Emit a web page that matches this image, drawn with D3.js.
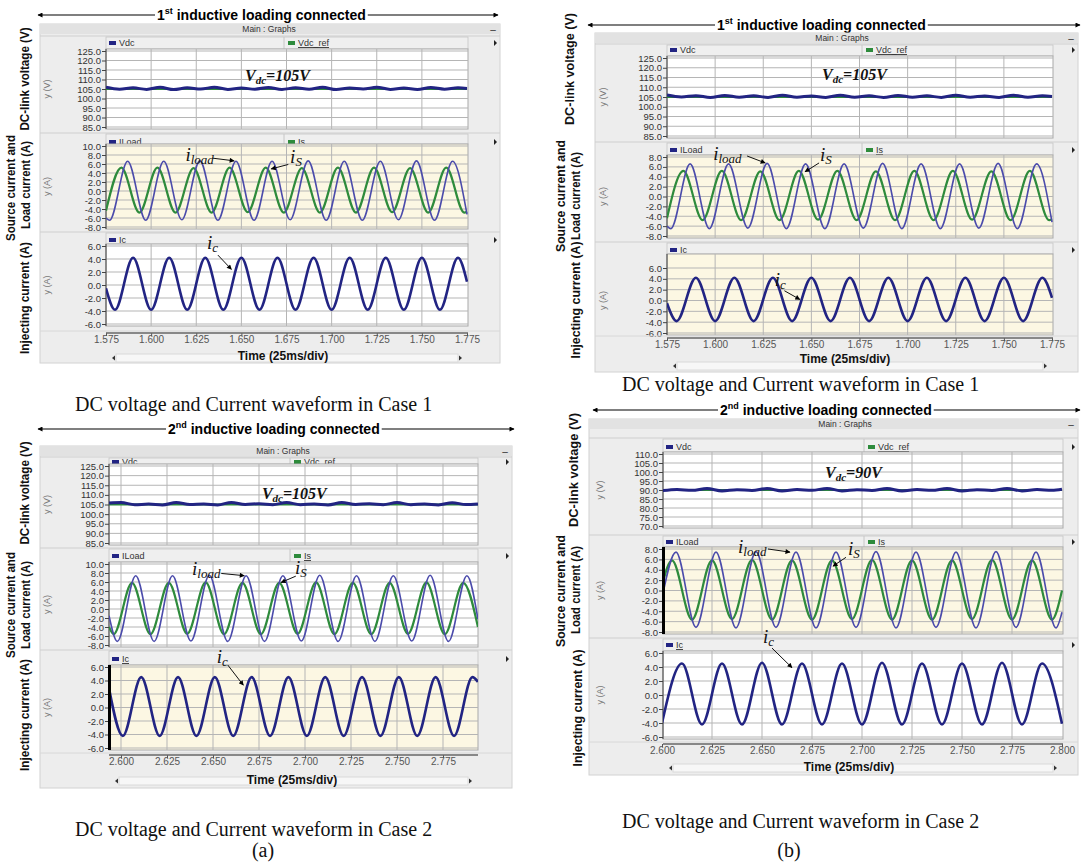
<!DOCTYPE html>
<html>
<head>
<meta charset="utf-8">
<script src="https://cdn.jsdelivr.net/npm/d3@7"></script>
<style>
body { margin: 0; background: #fff; }
svg { display: block; font-family: "Liberation Sans", Arial, sans-serif; }
</style>
</head>
<body>
<svg width="1084" height="865"></svg>
<script>
// tick labels
var timeTicks1 = [1.575, 1.600, 1.625, 1.650, 1.675, 1.700, 1.725, 1.750, 1.775];
var timeTicks2 = [2.600, 2.625, 2.650, 2.675, 2.700, 2.725, 2.750, 2.775];
var timeTicks3 = [2.600, 2.625, 2.650, 2.675, 2.700, 2.725, 2.750, 2.775, 2.800];
var vdcTicks1 = [125, 120, 115, 110, 105, 100, 95, 90, 85];
var vdcTicks2 = [110, 105, 100, 95, 90, 85, 80, 75, 70];
var loadTicks1 = [10, 8, 6, 4, 2, 0, -2, -4, -6, -8];
var loadTicks2 = [8, 6, 4, 2, 0, -2, -4, -6, -8];
var icTicks = [6, 4, 2, 0, -2, -4, -6];

// (a) case 1 : [time, value], peaks and troughs
var a1Vdc = [[1.575,105.9],[1.5825,104.9],[1.590,105.6],[1.5975,104.8],[1.605,105.9],[1.6125,104.7],[1.620,105.6],[1.6275,105.0],[1.635,105.9],[1.6425,104.8],[1.650,105.5],[1.6575,104.9],[1.665,105.8],[1.6725,104.8],[1.680,105.6],[1.6875,104.9],[1.695,105.9],[1.7025,104.7],[1.710,105.5],[1.7175,105.0],[1.725,105.9],[1.7325,104.8],[1.740,105.5],[1.7475,104.8],[1.755,105.8],[1.7625,104.9],[1.770,105.6],[1.775,105.3]];
var a1Ref = [[1.575,105],[1.775,105]];
var a1Load = [[1.575,-6.0],[1.577,-6.5],[1.587,6.6],[1.597,-6.5],[1.607,6.6],[1.617,-6.4],[1.627,6.7],[1.637,-6.5],[1.647,6.6],[1.657,-6.5],[1.667,6.6],[1.677,-6.4],[1.687,6.7],[1.697,-6.5],[1.707,6.6],[1.717,-6.5],[1.727,6.6],[1.737,-6.4],[1.747,6.7],[1.757,-6.5],[1.767,6.6],[1.775,-5.2]];
var a1Src = [[1.575,-4.4],[1.5835,5.2],[1.5935,-4.8],[1.6035,5.2],[1.6135,-4.8],[1.6235,5.1],[1.6335,-4.8],[1.6435,5.2],[1.6535,-4.7],[1.6635,5.2],[1.6735,-4.8],[1.6835,5.1],[1.6935,-4.8],[1.7035,5.2],[1.7135,-4.8],[1.7235,5.2],[1.7335,-4.7],[1.7435,5.1],[1.7535,-4.8],[1.7635,5.2],[1.7735,-4.8],[1.775,-4.6]];
var a1Ic = [[1.575,-0.5],[1.580,-3.8],[1.590,4.2],[1.600,-3.8],[1.610,4.2],[1.620,-3.8],[1.630,4.2],[1.640,-3.8],[1.650,4.2],[1.660,-3.8],[1.670,4.2],[1.680,-3.8],[1.690,4.2],[1.700,-3.8],[1.710,4.2],[1.720,-3.8],[1.730,4.2],[1.740,-3.8],[1.750,4.2],[1.760,-3.8],[1.770,4.2],[1.775,0.5]];

// (a) case 2
var a2Vdc = [[2.5935,105.8],[2.600,106.0],[2.6075,104.9],[2.615,105.2],[2.6225,104.8],[2.630,106.0],[2.6375,105.0],[2.645,105.3],[2.6525,104.8],[2.660,106.1],[2.6675,105.0],[2.675,105.4],[2.6825,104.9],[2.690,106.0],[2.6975,104.9],[2.705,105.3],[2.7125,104.8],[2.720,106.0],[2.7275,105.0],[2.735,105.4],[2.7425,104.9],[2.750,106.0],[2.7575,104.9],[2.765,105.3],[2.7725,104.8],[2.780,105.9],[2.7875,105.0],[2.794,105.3]];
var a2Ref = [[2.5935,105],[2.794,105]];
var a2Load = [[2.5935,-1.5],[2.598,-7.2],[2.608,7.4],[2.618,-7.2],[2.628,7.4],[2.638,-7.1],[2.648,7.5],[2.658,-7.2],[2.668,7.4],[2.678,-7.2],[2.688,7.4],[2.698,-7.1],[2.708,7.5],[2.718,-7.2],[2.728,7.4],[2.738,-7.2],[2.748,7.4],[2.758,-7.1],[2.768,7.5],[2.778,-7.2],[2.788,7.4],[2.794,-2.3]];
var a2Src = [[2.5935,-4.0],[2.596,-5.6],[2.606,5.8],[2.616,-5.6],[2.626,5.8],[2.636,-5.5],[2.646,5.9],[2.656,-5.6],[2.666,5.8],[2.676,-5.6],[2.686,5.8],[2.696,-5.5],[2.706,5.9],[2.716,-5.6],[2.726,5.8],[2.736,-5.6],[2.746,5.8],[2.756,-5.5],[2.766,5.9],[2.776,-5.6],[2.786,5.8],[2.794,-4.0]];
var a2Ic = [[2.5935,2.8],[2.601,-4.2],[2.611,4.5],[2.621,-4.2],[2.631,4.5],[2.641,-4.2],[2.651,4.5],[2.661,-4.2],[2.671,4.5],[2.681,-4.2],[2.691,4.5],[2.701,-4.2],[2.711,4.5],[2.721,-4.2],[2.731,4.5],[2.741,-4.2],[2.751,4.5],[2.761,-4.2],[2.771,4.5],[2.781,-4.2],[2.791,4.5],[2.794,3.8]];

// (b) case 1
var b1Vdc = [[1.575,106.0],[1.5825,105.0],[1.590,105.7],[1.5975,104.8],[1.605,105.8],[1.6125,104.9],[1.620,105.6],[1.6275,104.8],[1.635,105.9],[1.6425,104.9],[1.650,105.5],[1.6575,104.8],[1.665,105.9],[1.6725,104.9],[1.680,105.6],[1.6875,104.8],[1.695,105.8],[1.7025,104.9],[1.710,105.6],[1.7175,104.8],[1.725,105.9],[1.7325,104.9],[1.740,105.5],[1.7475,104.8],[1.755,105.9],[1.7625,104.9],[1.770,105.6],[1.775,105.2]];
var b1Ref = [[1.575,105],[1.775,105]];
var b1Load = [[1.575,-6.0],[1.577,-6.5],[1.587,6.6],[1.597,-6.5],[1.607,6.6],[1.617,-6.4],[1.627,6.7],[1.637,-6.5],[1.647,6.6],[1.657,-6.5],[1.667,6.6],[1.677,-6.4],[1.687,6.7],[1.697,-6.5],[1.707,6.6],[1.717,-6.5],[1.727,6.6],[1.737,-6.4],[1.747,6.7],[1.757,-6.5],[1.767,6.6],[1.775,-5.2]];
var b1Src = [[1.575,-4.4],[1.5835,5.2],[1.5935,-4.8],[1.6035,5.2],[1.6135,-4.8],[1.6235,5.1],[1.6335,-4.8],[1.6435,5.2],[1.6535,-4.7],[1.6635,5.2],[1.6735,-4.8],[1.6835,5.1],[1.6935,-4.8],[1.7035,5.2],[1.7135,-4.8],[1.7235,5.2],[1.7335,-4.7],[1.7435,5.1],[1.7535,-4.8],[1.7635,5.2],[1.7735,-4.8],[1.775,-4.6]];
var b1Ic = [[1.575,-0.5],[1.580,-3.8],[1.590,4.2],[1.600,-3.8],[1.610,4.2],[1.620,-3.8],[1.630,4.2],[1.640,-3.8],[1.650,4.2],[1.660,-3.8],[1.670,4.2],[1.680,-3.8],[1.690,4.2],[1.700,-3.8],[1.710,4.2],[1.720,-3.8],[1.730,4.2],[1.740,-3.8],[1.750,4.2],[1.760,-3.8],[1.770,4.2],[1.775,0.5]];

// (b) case 2
var b2Vdc = [[2.600,89.6],[2.6075,90.3],[2.615,89.8],[2.6225,90.8],[2.630,89.5],[2.6375,90.2],[2.645,89.7],[2.6525,90.8],[2.660,89.5],[2.6675,90.3],[2.675,89.8],[2.6825,90.9],[2.690,89.5],[2.6975,90.2],[2.705,89.7],[2.7125,90.8],[2.720,89.5],[2.7275,90.3],[2.735,89.8],[2.7425,90.8],[2.750,89.5],[2.7575,90.2],[2.765,89.7],[2.7725,90.8],[2.780,89.5],[2.7875,90.3],[2.795,89.8],[2.800,90.4]];
var b2Ref = [[2.600,90],[2.800,90]];
var b2Load = [[2.600,-1.5],[2.607,7.4],[2.617,-7.1],[2.627,7.4],[2.637,-7.2],[2.647,7.5],[2.657,-7.1],[2.667,7.4],[2.677,-7.2],[2.687,7.4],[2.697,-7.1],[2.707,7.5],[2.717,-7.2],[2.727,7.4],[2.737,-7.1],[2.747,7.4],[2.757,-7.2],[2.767,7.5],[2.777,-7.1],[2.787,7.4],[2.797,-7.2],[2.800,-4.2]];
var b2Src = [[2.600,1.0],[2.605,5.8],[2.615,-5.6],[2.625,5.8],[2.635,-5.5],[2.645,5.9],[2.655,-5.6],[2.665,5.8],[2.675,-5.6],[2.685,5.8],[2.695,-5.5],[2.705,5.9],[2.715,-5.6],[2.725,5.8],[2.735,-5.6],[2.745,5.8],[2.755,-5.5],[2.765,5.9],[2.775,-5.6],[2.785,5.8],[2.795,-5.6],[2.800,0.0]];
var b2Ic = [[2.600,-4.0],[2.610,4.5],[2.620,-4.2],[2.630,4.5],[2.640,-4.2],[2.650,4.6],[2.660,-4.2],[2.670,4.5],[2.680,-4.2],[2.690,4.5],[2.700,-4.2],[2.710,4.6],[2.720,-4.2],[2.730,4.5],[2.740,-4.2],[2.750,4.5],[2.760,-4.2],[2.770,4.6],[2.780,-4.2],[2.790,4.5],[2.800,-4.1]];

var NAVY = "#222483", BLUE = "#4b4bab", GREEN = "#2e8b3c", CREAM = "#fcf7e3";
var caption1 = "DC voltage and Current waveform in Case 1";
var caption2 = "DC voltage and Current waveform in Case 2";

var panels = [
  { title: ["1", "st", " inductive loading connected"], titleX: 157, arrowY: 15, arrow: [38, 498],
    win: [40, 24, 500, 363], mainX: 269, leg2X: 288, yLabX: 47,
    plotX: [106, 468], tDom: [1.575, 1.775], xPx: [106, 467], tTicks: timeTicks1,
    subs: [
      { head: 36, legY: 43, top: 51, bot: 127, ticks: vdcTicks1, bg: "#fff", unit: "y (V)",
        legend: [["Vdc", NAVY, false], ["Vdc_ref", GREEN, true]], series: [[a1Ref, GREEN, 2], [a1Vdc, NAVY, 3]] },
      { head: 133, legY: 142, top: 146, bot: 227, ticks: loadTicks1, bg: CREAM, unit: "y (A)",
        legend: [["ILoad", NAVY, false], ["Is", GREEN, true]], series: [[a1Src, GREEN, 2.2], [a1Load, BLUE, 1.6]] },
      { head: 232, legY: 240, top: 246, bot: 324, ticks: icTicks, bg: "#fff", unit: "y (A)",
        legend: [["Ic", NAVY, true]], series: [[a1Ic, NAVY, 2.6]] }
    ],
    axisY: 333, scrollY: 354, timeX: 283, timeY: 360,
    side: [["DC-link voltage (V)", 25, 79, 103], ["Source current and", 11, 188, 106], ["Load current (A)", 26, 185, 88], ["Injecting current (A)", 25, 298, 112]],
    captions: [[caption1, 75, 411]],
    notes: [
      { s: 0, txt: ["V", "dc", "=105V"], at: [1.652, 109] },
      { s: 1, txt: ["i", "load"], at: [1.619, 6.6], from: [1.634, 7.3], to: [1.646, 6.7] },
      { s: 1, txt: ["i", "S"], at: [1.677, 6.2], from: [1.676, 5.9], to: [1.6665, 4.9] },
      { s: 2, txt: ["i", "c"], at: [1.631, 5.6], from: [1.637, 4.6], to: [1.6445, 2.4] }
    ] },
  { title: ["2", "nd", " inductive loading connected"], titleX: 168, arrowY: 429, arrow: [38, 514],
    win: [40, 446, 512, 788], mainX: 283, leg2X: 294, yLabX: 47,
    plotX: [109, 478], tDom: [2.6, 2.775], xPx: [121, 443], tTicks: timeTicks2,
    subs: [
      { head: 457, legY: 462, top: 466, bot: 543, ticks: vdcTicks1, bg: "#fff", unit: "y (V)",
        legend: [["Vdc", NAVY, false], ["Vdc_ref", GREEN, true]], series: [[a2Ref, GREEN, 2], [a2Vdc, NAVY, 3]] },
      { head: 548, legY: 556, top: 564, bot: 645, ticks: loadTicks1, bg: "#fff", unit: "y (A)",
        legend: [["ILoad", NAVY, false], ["Is", GREEN, true]], series: [[a2Src, GREEN, 2.2], [a2Load, BLUE, 1.6]] },
      { head: 650, legY: 659, top: 667, bot: 748, ticks: icTicks, bg: CREAM, unit: "y (A)", cursor: true,
        legend: [["Ic", NAVY, true]], series: [[a2Ic, NAVY, 2.6]] }
    ],
    axisY: 755, scrollY: 777, timeX: 292, timeY: 784,
    side: [["DC-link voltage (V)", 25, 493, 103], ["Source current and", 11, 605, 106], ["Load current (A)", 26, 605, 88], ["Injecting current (A)", 25, 715, 112]],
    captions: [[caption2, 75, 836], ["(a)", 263, 857, "middle"]],
    notes: [
      { s: 0, txt: ["V", "dc", "=105V"], at: [2.6766, 108] },
      { s: 1, txt: ["i", "load"], at: [2.6386, 7.6], from: [2.6545, 7.9], to: [2.667, 7.4] },
      { s: 1, txt: ["i", "S"], at: [2.6945, 7.8], from: [2.695, 7.3], to: [2.687, 5.9] },
      { s: 2, txt: ["i", "c"], at: [2.652, 6.6], from: [2.658, 6.3], to: [2.6665, 3.3] }
    ] },
  { title: ["1", "st", " inductive loading connected"], titleX: 717, arrowY: 25, arrow: [588, 1080],
    win: [595, 33, 1078, 372], mainX: 842, leg2X: 866, yLabX: 603,
    plotX: [667, 1053], tDom: [1.575, 1.775], xPx: [667, 1052], tTicks: timeTicks1,
    subs: [
      { head: 44, legY: 50, top: 58, bot: 136, ticks: vdcTicks1, bg: "#fff", unit: "y (V)",
        legend: [["Vdc", NAVY, false], ["Vdc_ref", GREEN, true]], series: [[b1Ref, GREEN, 2], [b1Vdc, NAVY, 3]] },
      { head: 142, legY: 150, top: 157, bot: 236, ticks: loadTicks2, bg: CREAM, unit: "y (A)",
        legend: [["ILoad", NAVY, false], ["Is", GREEN, true]], series: [[b1Src, GREEN, 2.2], [b1Load, BLUE, 1.6]] },
      { head: 242, legY: 250, top: 268, bot: 333, ptop: 256, ticks: icTicks, bg: CREAM, unit: "y (A)",
        legend: [["Ic", NAVY, true]], series: [[b1Ic, NAVY, 2.6]] }
    ],
    axisY: 338, scrollY: 362, timeX: 845, timeY: 363,
    side: [["DC-link voltage (V)", 570, 69, 112], ["Source current and", 561, 196, 112], ["Load current (A)", 576, 196, 88], ["Injecting current (A)", 576, 300, 117]],
    captions: [[caption1, 622, 391]],
    notes: [
      { s: 0, txt: ["V", "dc", "=105V"], at: [1.6555, 113.7] },
      { s: 1, txt: ["i", "load"], at: [1.599, 7.4], from: [1.6166, 8.2], to: [1.626, 6.8] },
      { s: 1, txt: ["i", "S"], at: [1.6545, 7.2], from: [1.654, 6.8], to: [1.6467, 5.0] },
      { s: 2, txt: ["i", "c"], at: [1.631, 2.6], from: [1.636, 1.8], to: [1.644, 0.2] }
    ] },
  { title: ["2", "nd", " inductive loading connected"], titleX: 720, arrowY: 410, arrow: [593, 1080],
    win: [589, 419, 1078, 775], mainX: 845, leg2X: 868, yLabX: 600,
    plotX: [663, 1063], tDom: [2.6, 2.8], xPx: [662, 1062], tTicks: timeTicks3,
    subs: [
      { head: 438, legY: 447, top: 454, bot: 526, ticks: vdcTicks2, bg: "#fff", unit: "y (V)",
        legend: [["Vdc", NAVY, false], ["Vdc_ref", GREEN, true]], series: [[b2Ref, GREEN, 2], [b2Vdc, NAVY, 3]] },
      { head: 535, legY: 542, top: 549, bot: 632, ticks: loadTicks2, bg: CREAM, unit: "y (A)", cursor: true,
        legend: [["ILoad", NAVY, false], ["Is", GREEN, true]], series: [[b2Src, GREEN, 2.2], [b2Load, BLUE, 1.6]] },
      { head: 638, legY: 645, top: 653, bot: 737, ticks: icTicks, bg: "#fff", unit: "y (A)",
        legend: [["Ic", NAVY, true]], series: [[b2Ic, NAVY, 2.6]] }
    ],
    axisY: 744, scrollY: 764, timeX: 849, timeY: 771,
    side: [["DC-link voltage (V)", 574, 470, 114], ["Source current and", 561, 591, 112], ["Load current (A)", 576, 590, 88], ["Injecting current (A)", 578, 708, 117]],
    captions: [[caption2, 622, 828], ["(b)", 789, 857, "middle"]],
    notes: [
      { s: 0, txt: ["V", "dc", "=90V"], at: [2.6815, 96.7] },
      { s: 1, txt: ["i", "load"], at: [2.638, 7.2], from: [2.653, 8.0], to: [2.664, 7.4] },
      { s: 1, txt: ["i", "S"], at: [2.693, 6.8], from: [2.692, 6.4], to: [2.6855, 4.7] },
      { s: 2, txt: ["i", "c"], at: [2.6505, 7.4], from: [2.655, 6.7], to: [2.665, 3.9] }
    ] }
];

var svg = d3.select("svg");
var defs = svg.append("defs");
defs.append("marker").attr("id", "ah").attr("viewBox", "0 0 10 10").attr("refX", 9).attr("refY", 5)
    .attr("markerWidth", 7).attr("markerHeight", 5).attr("orient", "auto-start-reverse")
    .attr("markerUnits", "userSpaceOnUse")
  .append("path").attr("d", "M0,0L10,5L0,10z").attr("fill", "#000");

function drawPanel(p, k) {
  var g = svg.append("g");
  var x = d3.scaleLinear().domain(p.tDom).range(p.xPx);
  var w = p.win, px0 = p.plotX[0], px1 = p.plotX[1];

  // loading arrow and title over it
  g.append("line").attr("x1", p.arrow[0]).attr("x2", p.arrow[1]).attr("y1", p.arrowY).attr("y2", p.arrowY)
    .attr("stroke", "#000").attr("stroke-width", 1.1)
    .attr("marker-start", "url(#ah)").attr("marker-end", "url(#ah)");
  var tt = g.append("text").attr("x", p.titleX).attr("y", p.arrowY + 5)
    .style("font-weight", "bold").style("font-size", "14px");
  tt.append("tspan").text(p.title[0]);
  tt.append("tspan").text(p.title[1]).attr("dy", -6).style("font-size", "9px");
  tt.append("tspan").text(p.title[2]).attr("dy", 6);
  var bb = tt.node().getBBox();
  g.insert("rect", function() { return tt.node(); })
    .attr("x", bb.x - 2).attr("y", bb.y).attr("width", bb.width + 4).attr("height", bb.height).attr("fill", "#fff");

  // graph window
  g.append("rect").attr("x", w[0]).attr("y", w[1]).attr("width", w[2] - w[0]).attr("height", w[3] - w[1])
    .attr("fill", "#ededed").attr("stroke", "#d2d2d2");
  g.append("rect").attr("x", w[0]).attr("y", w[1]).attr("width", w[2] - w[0]).attr("height", 10)
    .attr("fill", "#e2e2e2");
  g.append("text").attr("x", p.mainX).attr("y", w[1] + 8).attr("text-anchor", "middle")
    .style("font-size", "8.5px").attr("fill", "#333").text("Main : Graphs");
  g.append("text").attr("x", w[2] - 7).attr("y", w[1] + 9).attr("text-anchor", "middle")
    .style("font-size", "10px").attr("fill", "#333").text("\u2013");

  p.subs.forEach(function(s, i) {
    var y = d3.scaleLinear().domain([d3.min(s.ticks), d3.max(s.ticks)]).range([s.bot, s.top]);
    var py0 = (s.ptop || s.top) - 2, py1 = s.bot + 2;

    // header row
    g.append("line").attr("x1", w[0]).attr("x2", w[2]).attr("y1", s.head).attr("y2", s.head)
      .attr("stroke", "#cfcfcf");
    g.append("rect").attr("x", px0).attr("y", s.head + 1).attr("width", px1 - px0).attr("height", Math.max(4, py0 - s.head - 1))
      .attr("fill", "#efefef").attr("stroke", "#c6c6c6").attr("stroke-width", 0.8);
    if (s.legend.length > 1) {
      g.append("line").attr("x1", p.leg2X - 4).attr("x2", p.leg2X - 4).attr("y1", s.head + 1).attr("y2", py0)
        .attr("stroke", "#c6c6c6");
    }
    s.legend.forEach(function(l, j) {
      var lx = j == 0 ? px0 + 3 : p.leg2X;
      g.append("rect").attr("x", lx).attr("y", s.legY - 2).attr("width", 7).attr("height", 4).attr("fill", l[1]);
      var t = g.append("text").attr("x", lx + 10).attr("y", s.legY + 3).text(l[0])
        .style("font-size", "9px").attr("fill", "#333");
      if (l[2]) t.style("text-decoration", "underline");
    });
    g.append("path").attr("d", "M" + (w[2] - 6) + "," + (s.legY - 3) + "l3,3l-3,3z").attr("fill", "#222");

    // plot area
    g.append("rect").attr("x", px0).attr("y", py0).attr("width", px1 - px0).attr("height", py1 - py0)
      .attr("fill", s.bg).attr("stroke", "#a9a9a9");
    g.append("g").selectAll("line").data(s.ticks).enter().append("line")
      .attr("x1", px0).attr("x2", px1).attr("y1", function(d) { return y(d); }).attr("y2", function(d) { return y(d); })
      .attr("stroke", "#b5b5b5").attr("stroke-width", 1);
    g.append("g").selectAll("line").data(p.tTicks.filter(function(t) { return x(t) > px0 + 3 && x(t) < px1 - 2; }))
      .enter().append("line")
      .attr("x1", function(d) { return x(d); }).attr("x2", function(d) { return x(d); })
      .attr("y1", py0).attr("y2", py1).attr("stroke", "#b5b5b5");

    var ax = g.append("g").attr("transform", "translate(" + px0 + ",0)")
      .call(d3.axisLeft(y).tickValues(s.ticks).tickFormat(function(d) { return d.toFixed(1); }).tickSize(4).tickSizeOuter(0));
    ax.select(".domain").attr("stroke", "#444").attr("d", "M0," + py0 + "V" + py1);
    ax.selectAll(".tick line").attr("stroke", "#444");
    ax.selectAll("text").style("font-size", "9.5px").attr("fill", "#333").attr("x", -5);

    g.append("text").attr("transform", "translate(" + p.yLabX + "," + ((s.top + s.bot) / 2) + ") rotate(-90)")
      .attr("text-anchor", "middle").attr("dy", "0.35em").style("font-size", "9px").attr("fill", "#777").text(s.unit);

    var cid = "clip" + k + "_" + i;
    defs.append("clipPath").attr("id", cid).append("rect")
      .attr("x", px0).attr("y", py0).attr("width", px1 - px0).attr("height", py1 - py0);
    var line = d3.line().x(function(d) { return x(d[0]); }).y(function(d) { return y(d[1]); }).curve(d3.curveMonotoneX);
    s.series.forEach(function(se) {
      g.append("path").datum(se[0]).attr("d", line).attr("fill", "none")
        .attr("stroke", se[1]).attr("stroke-width", se[2]).attr("stroke-linejoin", "round")
        .attr("clip-path", "url(#" + cid + ")");
    });
    if (s.cursor) {
      g.append("rect").attr("x", px0 - 1).attr("y", py0).attr("width", 3).attr("height", py1 - py0).attr("fill", "#000");
    }
    s.y = y;
  });

  // time axis
  g.append("line").attr("x1", w[0]).attr("x2", w[2]).attr("y1", p.axisY - 2).attr("y2", p.axisY - 2).attr("stroke", "#d8d8d8");
  var xa = g.append("g").attr("transform", "translate(0," + p.axisY + ")")
    .call(d3.axisBottom(x).tickValues(p.tTicks).tickFormat(function(d) { return d.toFixed(3); }).tickSize(3).tickSizeOuter(0));
  xa.select(".domain").remove();
  xa.selectAll(".tick line").attr("stroke", "#555");
  xa.selectAll("text").style("font-size", "10px").attr("fill", "#555").attr("y", 3);
  g.append("line").attr("x1", px0).attr("x2", px1).attr("y1", p.axisY).attr("y2", p.axisY)
    .attr("stroke", "#666").attr("stroke-width", 1.4);

  // scroll bar
  g.append("rect").attr("x", px0 + 10).attr("y", p.scrollY).attr("width", px1 - px0 - 20).attr("height", 8)
    .attr("fill", "#f7f7f7").attr("stroke", "#dadada");
  g.append("path").attr("d", "M" + (px0 + 6) + "," + (p.scrollY + 4) + "l3,-2.5v5z").attr("fill", "#333");
  g.append("path").attr("d", "M" + (px1 - 6) + "," + (p.scrollY + 4) + "l-3,-2.5v5z").attr("fill", "#333");
  g.append("text").attr("x", p.timeX).attr("y", p.timeY).attr("text-anchor", "middle")
    .style("font-size", "12px").style("font-weight", "bold").attr("fill", "#111").text("Time (25ms/div)");

  // side labels
  p.side.forEach(function(d) {
    g.append("text").attr("transform", "translate(" + d[1] + "," + d[2] + ") rotate(-90)")
      .attr("text-anchor", "middle").attr("dy", "0.35em")
      .attr("textLength", d[3]).attr("lengthAdjust", "spacingAndGlyphs")
      .style("font-size", "12.5px").style("font-weight", "bold").attr("fill", "#111").text(d[0]);
  });

  // captions
  p.captions.forEach(function(d) {
    g.append("text").attr("x", d[1]).attr("y", d[2]).attr("text-anchor", d[3] || "start")
      .style("font-family", "'Liberation Serif', 'Times New Roman', serif").style("font-size", "20px")
      .attr("fill", "#111").text(d[0]);
  });

  // annotations
  p.notes.forEach(function(n) {
    var ys = p.subs[n.s].y;
    var t = g.append("text").attr("x", x(n.at[0])).attr("y", ys(n.at[1]))
      .style("font-family", "'Liberation Serif', 'Times New Roman', serif").style("font-style", "italic").attr("fill", "#111");
    if (n.txt[0] == "V") {
      t.style("font-weight", "bold");
      t.append("tspan").text("V").style("font-size", "16px");
      t.append("tspan").text(n.txt[1]).attr("dy", 3).style("font-size", "11px");
      t.append("tspan").text(n.txt[2]).attr("dy", -3).style("font-size", "16px");
    } else {
      t.append("tspan").text("i").style("font-size", "19px");
      t.append("tspan").text(n.txt[1]).attr("dy", 3).style("font-size", "13px");
      g.append("line").attr("x1", x(n.from[0])).attr("y1", ys(n.from[1]))
        .attr("x2", x(n.to[0])).attr("y2", ys(n.to[1]))
        .attr("stroke", "#111").attr("stroke-width", 1).attr("marker-end", "url(#ah)");
    }
  });
}

panels.forEach(drawPanel);
</script>
</body>
</html>
